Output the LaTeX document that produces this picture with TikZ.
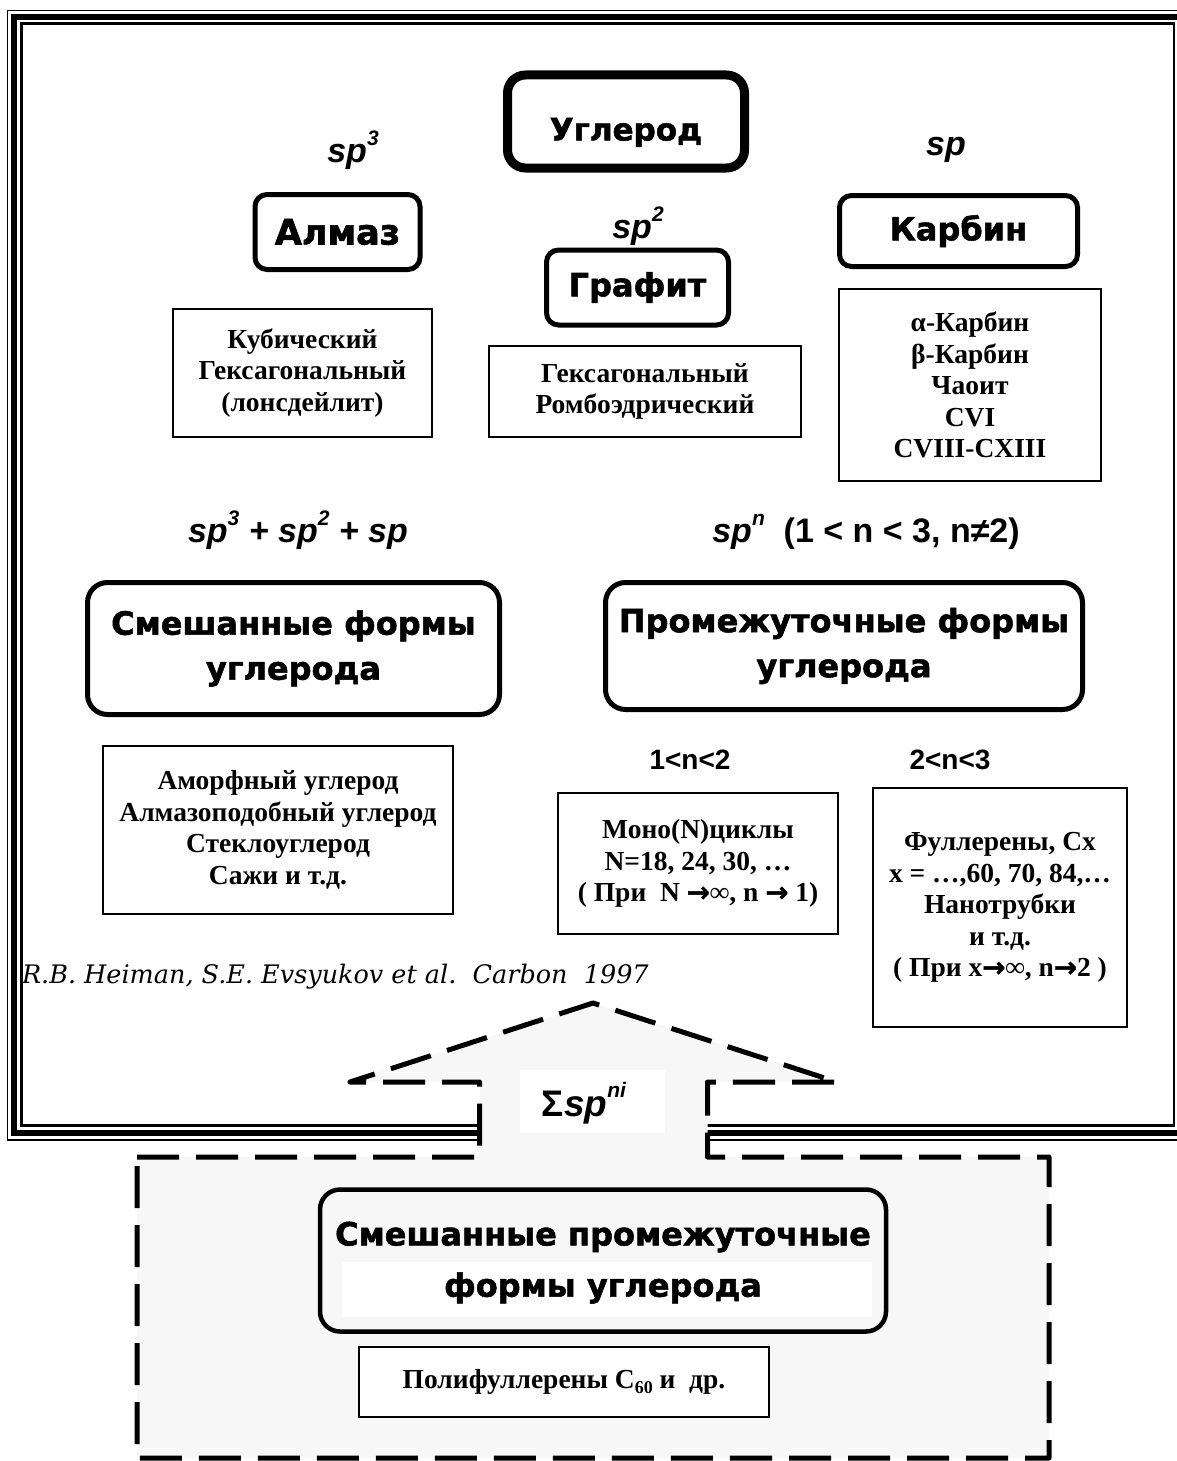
\documentclass[tikz,border=0pt]{standalone}
\usepackage{fontspec}
\setmainfont{Liberation Serif}
\newfontfamily\heavyfam{DejaVu Sans}[BoldFeatures={FakeBold=1.6}]
\newfontfamily\arialfam{Liberation Sans}
\newfontfamily\citefam{DejaVu Serif}
\newfontfamily\arrfam{DejaVu Sans}[BoldFeatures={FakeBold=1.5}]
\newcommand\myup[1]{\raisebox{0.5em}{\fontsize{21}{21}\selectfont #1}}
\newcommand\myarr{{\arrfam\bfseries →}}
\definecolor{fillgray}{HTML}{F7F7F7}
\tikzset{
  every node/.style={inner sep=0pt, outer sep=0pt},
  heavyfont/.style={font=\heavyfam\bfseries\fontsize{32}{45}\selectfont},
  hbox/.style={draw, line width=5pt, rounded corners=12pt, fill=white, heavyfont, align=center},
  tbox/.style={draw, line width=2pt, fill=white, font=\bfseries\fontsize{27.5}{31.5}\selectfont, align=center},
  splab/.style={font=\arialfam\bfseries\itshape\fontsize{34}{40}\selectfont},
  nlab/.style={font=\arialfam\bfseries\fontsize{28}{32}\selectfont},
  dashbox/.style={draw, fill=fillgray, line width=5pt, dash pattern=on 42pt off 17pt, line join=round},
}
\begin{document}
\begin{tikzpicture}[x=1pt,y=-1pt]
\useasboundingbox (0,0) rectangle (1176,1461);
% triple frame
\draw[line width=1.3pt] (7.5,10.5) rectangle (1188,1140);
\draw[line width=6pt] (13.7,16.7) rectangle (1181.6,1133.3);
\draw[line width=2.7pt] (21.3,23.7) rectangle (1174,1125.8);

% top level
\node[hbox, line width=9pt, rounded corners=18pt, minimum width=237pt, minimum height=93pt,
      text height=38pt, text depth=0pt,
      font=\heavyfam\bfseries\fontsize{31}{40}\selectfont] (ugl) at (626,121.5) {Углерод};
\node[splab] (sp3) at (353,150) {sp\myup{3}};
\node[splab] (sp2) at (638,226) {sp\myup{2}};
\node[splab] (sp1) at (946,150) {sp};

\node[hbox, minimum width=165pt, minimum height=75pt, font=\heavyfam\bfseries\fontsize{35}{40}\selectfont] (alm) at (337.5,232) {Алмаз};
\node[hbox, minimum width=182pt, minimum height=75pt] (gra) at (637.5,287.5) {Графит};
\node[hbox, minimum width=238pt, minimum height=71pt] (kar) at (958.5,231) {Карбин};

\node[tbox, minimum width=259pt, minimum height=128pt] (kub) at (302.5,373)
  {Кубический\\Гексагональный\\(лонсдейлит)};
\node[tbox, minimum width=312pt, minimum height=91pt] (hex) at (645,391.5)
  {Гексагональный\\Ромбоэдрический};
\node[tbox, minimum width=262pt, minimum height=192pt] (alp) at (970,385)
  {α-Карбин\\β-Карбин\\Чаоит\\CVI\\CVIII-CXIII};

% second level
\node[splab] (spmix) at (298,530) {sp\myup{3} + sp\myup{2} + sp};
\node[splab] (spn) at (866,532) {sp\myup{n}~~{\upshape (1 < n < 3, n≠2)}};

\node[hbox, rounded corners=20pt, minimum width=412pt, minimum height=132pt] (mix) at (293.5,648.5)
  {Смешанные формы\\углерода};
\node[hbox, rounded corners=20pt, minimum width=477pt, minimum height=127pt] (intm) at (844,646)
  {Промежуточные формы\\углерода};

\node[nlab] (n12) at (690,760) {1<n<2};
\node[nlab] (n23) at (950,760) {2<n<3};

\node[tbox, minimum width=350pt, minimum height=168pt] (amo) at (278,830)
  {Аморфный углерод\\Алмазоподобный углерод\\Стеклоуглерод\\Сажи и т.д.};
\node[tbox, minimum width=280pt, minimum height=141pt] (mono) at (698,863.5)
  {Моно(N)циклы\\N=18, 24, 30, …\\( При~~N \myarr∞, n \myarr{} 1)};
\node[tbox, minimum width=254pt, minimum height=239pt] (ful) at (1000,907.5)
  {Фуллерены, Сх\\x = …,60, 70, 84,…\\Нанотрубки\\и т.д.\\( При x\myarr∞, n\myarr2 )};

\node[font=\citefam\itshape\fontsize{25.5}{28}\selectfont, anchor=west] (cite) at (22,977)
  {R.B. Heiman, S.E. Evsyukov et al.~~Carbon~~1997};

% dashed arrow + box
\draw[dashbox] (137,1157) -- (479.5,1157) -- (479.5,1082) -- (350,1082) -- (593,1003)
  -- (837,1082) -- (707.5,1082) -- (707.5,1157) -- (1049,1157) -- (1049,1458)
  -- (137,1458) -- cycle;
\node[fill=white, minimum width=145pt, minimum height=63pt] (sigbg) at (592.5,1101.5) {};
\node[font=\arialfam\bfseries\fontsize{37}{40}\selectfont] (sig) at (584,1103)
  {Σ{\itshape sp\myup{ni}}};

\node[hbox, line width=4.5pt, rounded corners=20pt, fill=fillgray, minimum width=566pt, minimum height=142pt] (mix2) at (603,1260.5) {};
\node[fill=white, minimum width=530pt, minimum height=55pt] (mix2bg) at (607,1289.5) {};
\node[heavyfont] (mix2a) at (603,1237) {Смешанные промежуточные};
\node[heavyfont] (mix2b) at (603,1288) {формы углерода};

\node[tbox, minimum width=410pt, minimum height=70pt] (poly) at (564,1382)
  {Полифуллерены C\raisebox{-5pt}{\fontsize{18}{18}\selectfont 60} и~~др.};
\end{tikzpicture}
\end{document}
